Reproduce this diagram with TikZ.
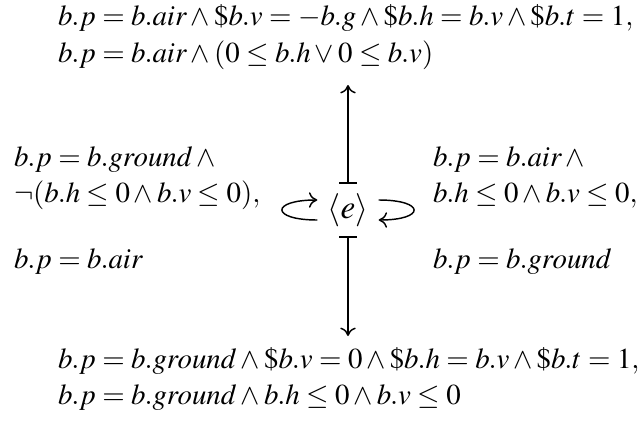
\documentclass[tikz,border=0pt]{standalone}
\IfFileExists{mathptmx.sty}{\usepackage{mathptmx}}{}
\usetikzlibrary{arrows.meta,calc}
\begin{document}
\begin{tikzpicture}[x=0.346pt,y=-0.346pt,
  lbl/.style={anchor=base west, inner sep=0pt, outer sep=0pt},
  mytip/.tip={To[length=2.9pt,width=5.4pt]},
  vert/.style={line width=0.5pt, {Bar[width=6pt,line width=0.5pt]}-{mytip}},
  lp/.style={line width=0.5pt, -{mytip}}]
\useasboundingbox (0,0) rectangle (640,421);
\node[inner sep=0pt, outer xsep=3.6pt, outer ysep=3.4pt, font=\fontsize{11.5}{14}\selectfont] (e) at (348,210) {$\langle e\rangle$};
% top
\node[lbl] (t1) at (58,25) {$b.p = b.air \wedge \$b.v = -b.g \wedge \$b.h = b.v \wedge \$b.t = 1,$};
\node[lbl] (t2) at (58,62) {$b.p = b.air \wedge (0 \leq b.h \vee 0 \leq b.v)$};
% bottom
\node[lbl] (b1) at (58,368) {$b.p = b.ground \wedge \$b.v = 0 \wedge \$b.h = b.v \wedge \$b.t = 1,$};
\node[lbl] (b2) at (58,404) {$b.p = b.ground \wedge b.h \leq 0 \wedge b.v \leq 0$};
% left
\node[lbl] (l1) at (14,166) {$b.p = b.ground \wedge{}$};
\node[lbl] (l2) at (14,202) {$\neg(b.h \leq 0 \wedge b.v \leq 0),$};
\node[lbl] (l3) at (14,268) {$b.p = b.air$};
% right
\node[lbl] (r1) at (433,166) {$b.p = b.air \wedge{}$};
\node[lbl] (r2) at (433,202) {$b.h \leq 0 \wedge b.v \leq 0,$};
\node[lbl] (r3) at (433,268) {$b.p = b.ground$};
% connectors
\coordinate (toptip) at (348,85);
\coordinate (bottip) at (348,336);
\draw[vert] (e) -- (toptip);
\draw[vert] (e) -- (bottip);
\draw[lp] ($(e.west)+(0,10)$) .. controls +(-47,0) and +(-47,0) .. ($(e.west)+(0,-10)$);
\draw[lp] ($(e.east)+(0,-10)$) .. controls +(47,0) and +(47,0) .. ($(e.east)+(0,10)$);
\end{tikzpicture}
\end{document}
